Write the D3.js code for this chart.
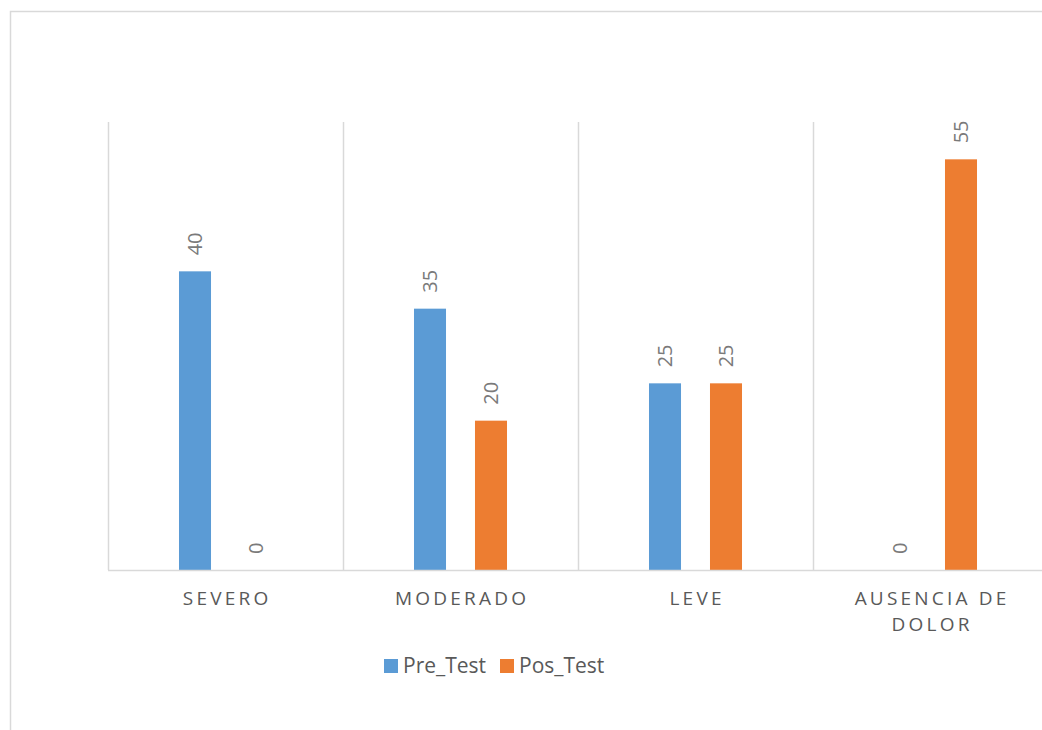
<!DOCTYPE html>
<html>
<head>
<meta charset="utf-8">
<script src="https://cdn.jsdelivr.net/npm/d3@7"></script>
<style>
  html, body { margin: 0; padding: 0; background: #fff; }
  svg { display: block; font-family: "Open Sans", "Noto Sans", sans-serif; }
</style>
</head>
<body>
<svg id="chart" width="1042" height="730"></svg>
<script>
// Pain level categories and the two measurement series
const categories = [["SEVERO"], ["MODERADO"], ["LEVE"], ["AUSENCIA DE", "DOLOR"]];
const categoryKeys = ["SEVERO", "MODERADO", "LEVE", "AUSENCIA DE DOLOR"];
const seriesNames = ["Pre_Test", "Pos_Test"];
const preTest = [40, 35, 25, 0];
const posTest = [0, 20, 25, 55];
const seriesColors = ["#5B9BD5", "#ED7D31"];

const svg = d3.select("#chart");

// outer chart frame (extends past the right and bottom edges)
svg.append("rect")
  .attr("x", 10.5).attr("y", 11.5)
  .attr("width", 1100).attr("height", 800)
  .attr("fill", "none").attr("stroke", "#d9d9d9").attr("stroke-width", 1.5);

const plot = { left: 108, right: 1048, top: 122, bottom: 570 };

const x0 = d3.scaleBand().domain(categoryKeys).range([plot.left, plot.right]).padding(0);
const x1 = d3.scaleBand().domain(seriesNames).range([0, x0.bandwidth()])
  .paddingInner(0.475).paddingOuter(1.164);
const y = d3.scaleLinear().domain([0, 60]).range([plot.bottom, plot.top]);

// vertical category separators
const seps = categoryKeys.map(k => x0(k));
svg.append("g").selectAll("line").data(seps).join("line")
  .attr("x1", d => Math.round(d) + 0.5).attr("x2", d => Math.round(d) + 0.5)
  .attr("y1", plot.top).attr("y2", plot.bottom)
  .attr("stroke", "#d9d9d9").attr("stroke-width", 1.5);

// bars
const rows = categoryKeys.map((k, i) => ({ key: k, values: [preTest[i], posTest[i]] }));
const groups = svg.append("g").selectAll("g").data(rows).join("g")
  .attr("transform", d => `translate(${x0(d.key)},0)`);

groups.selectAll("rect").data(d => d.values.map((v, j) => ({ s: seriesNames[j], v, j })))
  .join("rect")
  .attr("x", d => x1(d.s))
  .attr("width", x1.bandwidth())
  .attr("y", d => y(d.v))
  .attr("height", d => y(0) - y(d.v))
  .attr("fill", d => seriesColors[d.j]);

// rotated value labels above each bar
groups.selectAll("text").data(d => d.values.map((v, j) => ({ s: seriesNames[j], v, j })))
  .join("text")
  .attr("transform", d => `translate(${x1(d.s) + x1.bandwidth() / 2},${y(d.v) - 16}) rotate(-90)`)
  .attr("dy", "0.36em")
  .attr("font-size", 20)
  .attr("fill", "#7a7a7a")
  .attr("text-anchor", "start")
  .text(d => d.v);

// baseline
svg.append("line")
  .attr("x1", plot.left).attr("x2", 1042)
  .attr("y1", y(0) + 0.5).attr("y2", y(0) + 0.5)
  .attr("stroke", "#d9d9d9").attr("stroke-width", 1.5);

// category labels
const spacing = 3.2;
const catText = svg.append("g").selectAll("text").data(categories).join("text")
  .attr("font-size", 19)
  .attr("fill", "#595959")
  .attr("letter-spacing", spacing)
  .attr("text-anchor", "middle");
catText.each(function (lines, i) {
  const cx = x0(categoryKeys[i]) + x0.bandwidth() / 2 + spacing / 2;
  d3.select(this).selectAll("tspan").data(lines).join("tspan")
    .attr("x", cx)
    .attr("y", (d, k) => 604.5 + k * 26)
    .text(d => d);
});

// legend
const legend = svg.append("g");
const legendItems = [
  { name: seriesNames[0], color: seriesColors[0], x: 384 },
  { name: seriesNames[1], color: seriesColors[1], x: 500 }
];
legend.selectAll("rect").data(legendItems).join("rect")
  .attr("x", d => d.x).attr("y", 659).attr("width", 14).attr("height", 14)
  .attr("fill", d => d.color);
legend.selectAll("text").data(legendItems).join("text")
  .attr("x", d => d.x + 19).attr("y", 673)
  .attr("font-size", 21).attr("fill", "#595959")
  .text(d => d.name);
</script>
</body>
</html>
